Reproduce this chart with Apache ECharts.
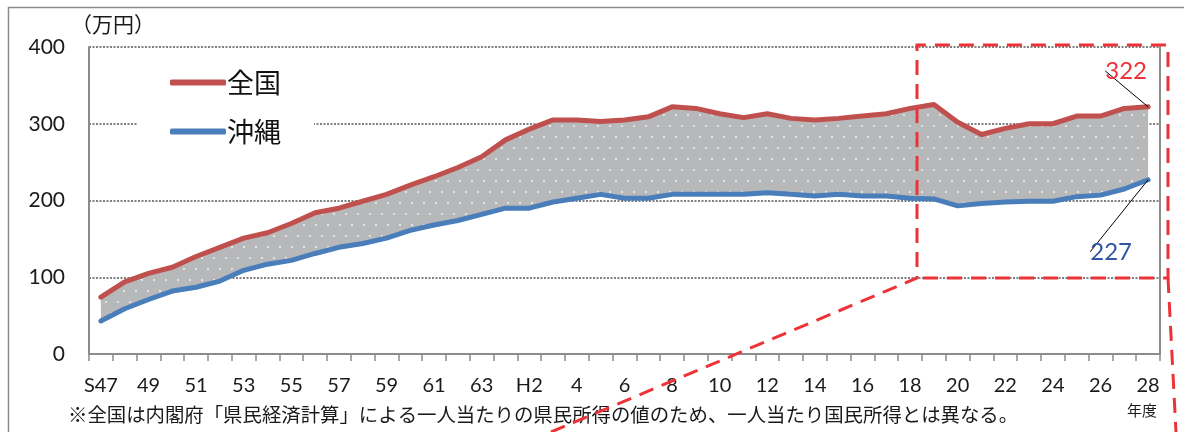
<!DOCTYPE html>
<html>
<head>
<meta charset="utf-8">
<script src="https://cdn.jsdelivr.net/npm/echarts@6/dist/echarts.min.js"></script>
<style>
  html, body { margin: 0; padding: 0; background: #fff; }
  #chart { width: 1184px; height: 432px; }
</style>
</head>
<body>
<div id="chart"></div>
<script>
// 年度 (S47 ～ H28)
var years = ["S47", "48", "49", "50", "51", "52", "53", "54", "55", "56", "57", "58", "59", "60", "61", "62", "63",
  "H1", "H2", "3", "4", "5", "6", "7", "8", "9", "10", "11", "12", "13", "14", "15", "16", "17", "18", "19", "20",
  "21", "22", "23", "24", "25", "26", "27", "28"];
// 一人当たり県民所得 全国 (万円)
var zenkoku = [74, 94, 105, 113, 127, 139, 151, 158, 170, 184, 190, 199, 208, 220, 231, 243, 257,
  279, 293, 305, 305, 303, 305, 309, 322, 320, 313, 308, 313, 307, 305, 307, 310, 313, 320, 325, 302,
  286, 294, 300, 300, 310, 310, 320, 322];
// 一人当たり県民所得 沖縄 (万円)
var okinawa = [43, 59, 71, 82, 87, 95, 109, 117, 122, 131, 139, 144, 151, 161, 168, 174, 182,
  190, 190, 198, 203, 208, 203, 203, 208, 208, 208, 208, 210, 208, 206, 208, 206, 206, 203, 202, 193,
  196, 198, 199, 199, 205, 207, 215, 227];
var yTicks = [0, 100, 200, 300, 400];

var gap = zenkoku.map(function (v, i) { return v - okinawa[i]; }); //差（塗りつぶし用）
var last = years.length - 1;

// ドット柄
function dots() {
  var c = document.createElement("canvas");
  c.width = 12; c.height = 22;
  var ctx = c.getContext("2d");
  ctx.fillStyle = "#b7b8ba";
  ctx.fillRect(0, 0, 12, 22);
  ctx.fillStyle = "#e2e3e4";
  ctx.fillRect(3, 4, 2, 2);
  ctx.fillRect(9, 15, 2, 2);
  return c;
}

// 最終年度だけラベルを出す
function withEndLabel(arr) {
  return arr.map(function (v, i) {
    if (i !== last) return v;
    return { value: v, label: { show: true } };
  });
}

var numFont = "Lato, 'Noto Sans CJK JP', sans-serif";
var jpFont = "'Noto Sans CJK JP', sans-serif";
var red = "#c0504d", blue = "#4a7ebb", dashRed = "#ee3338";

var myecharts = echarts.init(document.getElementById("chart"));
var option = {
  animation: false,
  backgroundColor: "#fff",
  grid: { left: 89, right: 24, top: 47, bottom: 78 },
  legend: {
    data: ["全国", "沖縄"],
    orient: "vertical",
    left: 137,
    top: 55,
    padding: [14, 33, 14, 33],
    backgroundColor: "#fff",
    itemWidth: 56,
    itemHeight: 6,
    itemGap: 22,
    icon: "roundRect",
    textStyle: { fontFamily: jpFont, fontSize: 27, color: "#111", padding: [0, 0, 0, -4] }
  },
  xAxis: {
    type: "category",
    data: years,
    boundaryGap: true,
    axisLine: { lineStyle: { color: "#8c8c8c", width: 2 } },
    axisTick: { show: true, interval: 0, length: 7, lineStyle: { color: "#8c8c8c", width: 1.5 } },
    axisLabel: { interval: 1, margin: 22, fontFamily: numFont, fontSize: 20, color: "#1a1a1a" }
  },
  yAxis: [
    {
      type: "value",
      min: yTicks[0],
      max: yTicks[yTicks.length - 1],
      interval: 100,
      name: "（万円）",
      nameLocation: "end",
      nameGap: 12,
      nameTextStyle: { fontFamily: jpFont, fontSize: 21, color: "#1a1a1a", align: "left", padding: [0, 0, 0, -18] },
      axisLine: { show: true, lineStyle: { color: "#8c8c8c", width: 2 } },
      axisTick: { show: false },
      axisLabel: { margin: 24, fontFamily: numFont, fontSize: 21, color: "#1a1a1a" },
      splitLine: { lineStyle: { color: "#7f7f7f", width: 2, type: [2, 1.5] } }
    },
    {
      type: "value",
      position: "right",
      min: yTicks[0],
      max: yTicks[yTicks.length - 1],
      interval: 100,
      axisLine: { show: true, lineStyle: { color: "#8c8c8c", width: 2 } },
      axisTick: { show: false },
      axisLabel: { show: false },
      splitLine: { show: false }
    }
  ],
  series: [
    {
      name: "base",
      type: "line",
      stack: "band",
      data: okinawa,
      symbol: "none",
      lineStyle: { width: 0 },
      silent: true
    },
    {
      name: "band",
      type: "line",
      stack: "band",
      data: gap,
      symbol: "none",
      lineStyle: { width: 0 },
      areaStyle: { color: { image: dots(), repeat: "repeat" }, opacity: 1 },
      silent: true
    },
    {
      name: "全国",
      type: "line",
      data: withEndLabel(zenkoku),
      symbol: "circle",
      symbolSize: 0,
      showSymbol: true,
      showAllSymbol: true,
      z: 3,
      itemStyle: { color: red },
      lineStyle: { color: red, width: 5, cap: "round", join: "round" },
      label: { show: false, position: "top", fontFamily: numFont, fontSize: 24, color: dashRed },
      labelLayout: { dx: -22, dy: -19 },
      labelLine: { show: true, lineStyle: { color: "#000", width: 1 } }
    },
    {
      name: "沖縄",
      type: "line",
      data: withEndLabel(okinawa),
      symbol: "circle",
      symbolSize: 0,
      showSymbol: true,
      showAllSymbol: true,
      z: 3,
      itemStyle: { color: blue },
      lineStyle: { color: blue, width: 5, cap: "round", join: "round" },
      label: { show: false, position: "bottom", fontFamily: numFont, fontSize: 24, color: "#2f55a4" },
      labelLayout: { dx: -37, dy: 55 },
      labelLine: { show: true, lineStyle: { color: "#000", width: 1 } }
    }
  ],
  graphic: [
    { type: "rect", left: 6, top: 5, shape: { width: 1200, height: 460 }, style: { fill: null, stroke: "#8c8c8c", lineWidth: 1.5 }, z: -1, silent: true },
    { type: "text", left: 1127, top: 403, style: { text: "年度", font: "15px " + jpFont, fill: "#1a1a1a" } },
    { type: "text", left: 68, top: 405, style: { text: "※全国は内閣府「県民経済計算」による一人当たりの県民所得の値のため、一人当たり国民所得とは異なる。", font: "19.4px " + jpFont, fill: "#1a1a1a" } },
    {
      type: "polyline", z: 10, silent: true,
      shape: { points: [[551, 432], [917, 278], [917, 45], [1168, 45], [1168, 278], [917, 278]] },
      style: { fill: null, stroke: dashRed, lineWidth: 3, lineDash: [15, 9] }
    },
    {
      type: "polyline", z: 10, silent: true,
      shape: { points: [[1168, 278], [1176, 432]] },
      style: { fill: null, stroke: dashRed, lineWidth: 3, lineDash: [15, 9] }
    }
  ]
};
myecharts.setOption(option);
</script>
</body>
</html>
